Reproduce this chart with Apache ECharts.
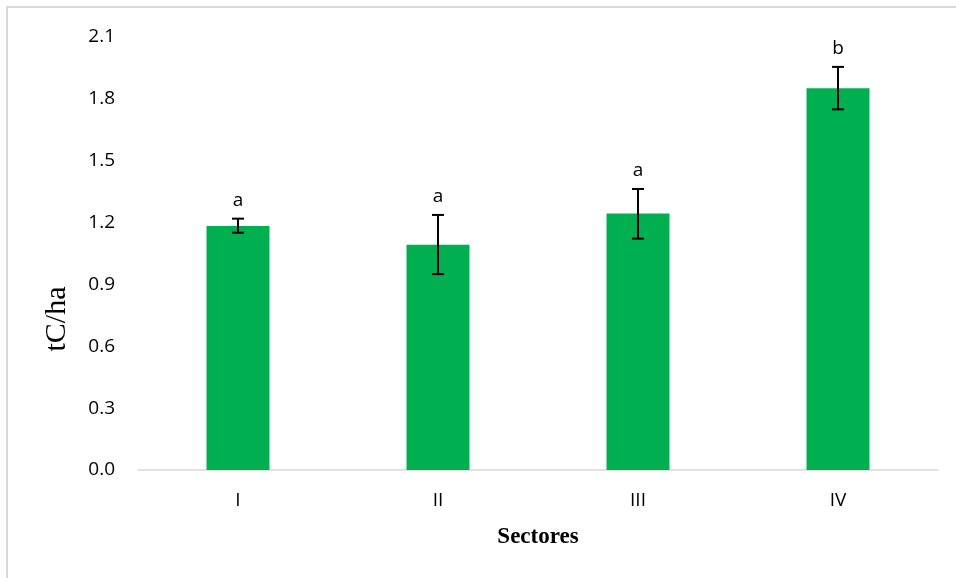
<!DOCTYPE html>
<html>
<head>
<meta charset="utf-8">
<script src="https://cdn.jsdelivr.net/npm/echarts@6/dist/echarts.min.js"></script>
<style>
  html, body { margin: 0; padding: 0; background: #fff; }
  #chart { width: 956px; height: 578px; }
</style>
</head>
<body>
<div id="chart"></div>
<script>
// datos del gráfico
var sectores = ['I', 'II', 'III', 'IV'];
var carbono = [1.183, 1.093, 1.244, 1.852];
var errMin = [1.151, 0.950, 1.122, 1.749];
var errMax = [1.219, 1.237, 1.363, 1.955];
var letras = ['a', 'a', 'a', 'b'];
var yTicks = [0, 0.3, 0.6, 0.9, 1.2, 1.5, 1.8, 2.1];

var myChart = echarts.init(document.getElementById('chart'));

var errData = sectores.map(function (s, i) {
  return [i, errMin[i], errMax[i], letras[i]];
});

var option = {
  animation: false,
  backgroundColor: '#fff',
  grid: { left: 138, right: 18, top: 37, bottom: 108 },
  graphic: [
    {
      type: 'rect',
      shape: { x: 7, y: 7, width: 1200, height: 1000 },
      style: { fill: 'none', stroke: '#d9d9d9', lineWidth: 2 }
    },
    {
      type: 'text',
      x: 57, y: 319,
      rotation: Math.PI / 2,
      style: {
        text: 'tC/ha',
        font: '30px "Liberation Serif"',
        fill: '#000',
        textAlign: 'center',
        textVerticalAlign: 'middle'
      }
    }
  ],
  xAxis: {
    type: 'category',
    data: sectores,
    name: 'Sectores',
    nameLocation: 'middle',
    nameGap: 56,
    nameTextStyle: { fontFamily: 'Liberation Serif', fontWeight: 'bold', fontSize: 23, color: '#000' },
    axisLine: { lineStyle: { color: '#d9d9d9', width: 1.5 } },
    axisTick: { show: false },
    axisLabel: { fontFamily: 'Open Sans', fontSize: 19, color: '#000', margin: 21 }
  },
  yAxis: {
    type: 'value',
    min: 0,
    max: 2.1,
    interval: 0.3,
    axisLine: { show: false },
    axisTick: { show: false },
    splitLine: { show: false },
    axisLabel: {
      fontFamily: 'Open Sans', fontSize: 19, color: '#000', margin: 23,
      formatter: function (v) { return v.toFixed(1); }
    }
  },
  series: [
    {
      type: 'bar',
      data: carbono,
      barWidth: '31.5%',
      itemStyle: { color: '#00b050' }
    },
    {
      type: 'custom',
      data: errData,
      z: 10,
      renderItem: function (params, api) {
        var x = api.value(0);
        var lo = api.coord([x, api.value(1)]);
        var hi = api.coord([x, api.value(2)]);
        var cap = 6;
        var st = { stroke: '#000', lineWidth: 2 };
        return {
          type: 'group',
          children: [
            { type: 'line', shape: { x1: hi[0], y1: hi[1], x2: lo[0], y2: lo[1] }, style: st },
            { type: 'line', shape: { x1: hi[0] - cap, y1: hi[1], x2: hi[0] + cap, y2: hi[1] }, style: st },
            { type: 'line', shape: { x1: lo[0] - cap, y1: lo[1], x2: lo[0] + cap, y2: lo[1] }, style: st },
            {
              type: 'text',
              x: hi[0], y: hi[1] - 18,
              style: {
                text: api.value(3),
                font: '19px "Open Sans"',
                fill: '#000',
                textAlign: 'center',
                textVerticalAlign: 'middle'
              }
            }
          ]
        };
      }
    }
  ]
};

myChart.setOption(option);
</script>
</body>
</html>
